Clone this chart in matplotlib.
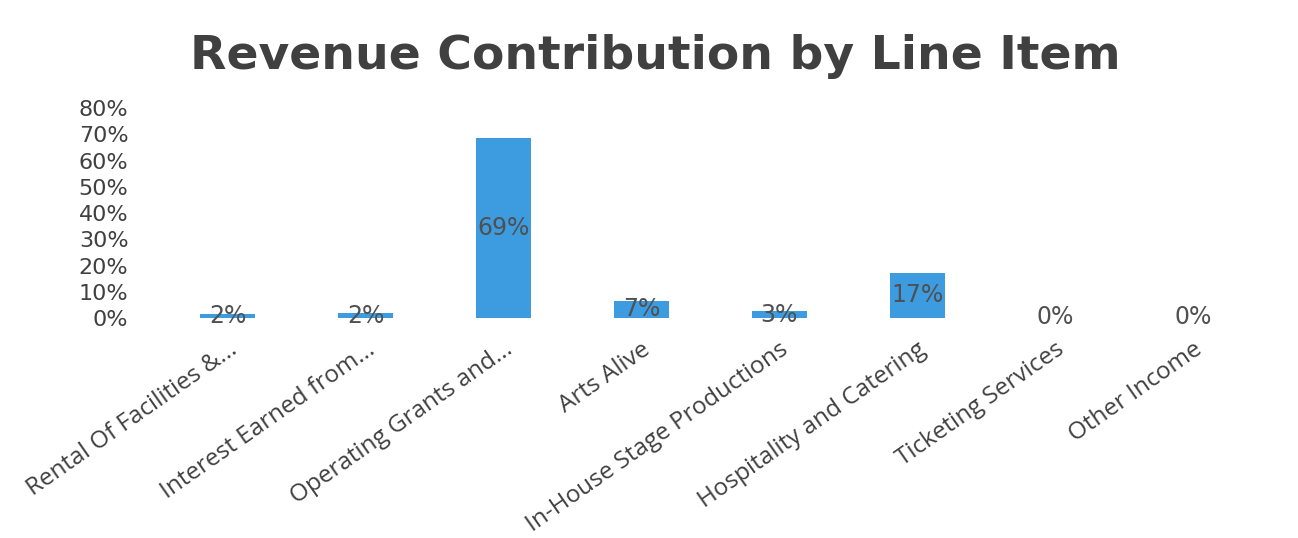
import matplotlib
matplotlib.use("Agg")
import matplotlib.pyplot as plt
from matplotlib.ticker import FuncFormatter, MultipleLocator

categories = ["Rental Of Facilities &...", "Interest Earned from...", "Operating Grants and...",
              "Arts Alive", "In-House Stage Productions", "Hospitality and Catering",
              "Ticketing Services", "Other Income"]
values = [1.6, 1.7, 68.6, 6.6, 2.6, 17.2, 0.0, 0.0]
labels = ["2%", "2%", "69%", "7%", "3%", "17%", "0%", "0%"]

bar_color = "#3D9BE0"
text_color = "#404040"

fig = plt.figure(figsize=(12.98, 5.38), dpi=100)
ax = fig.add_axes([0.1225, 0.409, 0.8495, 0.39])

x = list(range(len(categories)))
ax.bar(x, values, width=0.4, color=bar_color)
for xi, v, lab in zip(x, values, labels):
    ax.text(xi, v / 2 if v > 0 else 0.3, lab, ha="center", va="center",
            fontsize=17, color="#505050")

ax.set_xlim(-0.5, len(categories) - 0.5)
ax.set_ylim(0, 80)
ax.yaxis.set_major_locator(MultipleLocator(10))
ax.yaxis.set_major_formatter(FuncFormatter(lambda v, p: f"{v:.0f}%"))
ax.set_xticks(x)
ax.set_xticklabels(categories, rotation=35, ha="right", rotation_mode="anchor",
                   fontsize=17.5, color=text_color, family="Open Sans")
for t in ax.get_yticklabels():
    t.set_fontsize(16)
    t.set_color(text_color)
ax.tick_params(axis="both", length=0)
ax.tick_params(axis="y", pad=22)
ax.tick_params(axis="x", pad=14)
for s in ax.spines.values():
    s.set_visible(False)

fig.text(0.505, 0.895, "Revenue Contribution by Line Item", ha="center", va="center",
         fontsize=34, fontweight="bold", color=text_color)

fig.savefig("out.png", dpi=100, facecolor="white")
